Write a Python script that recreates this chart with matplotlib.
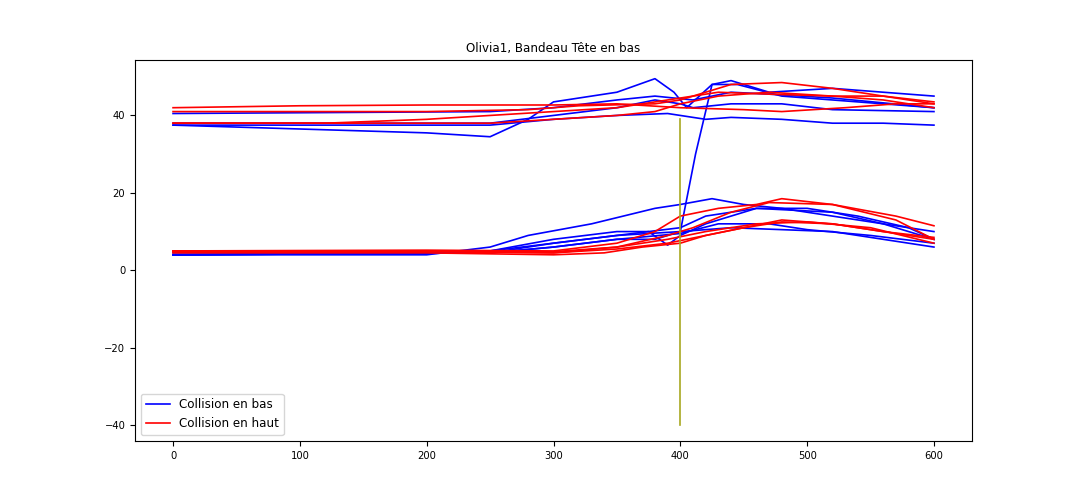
import matplotlib
matplotlib.use("Agg")
import matplotlib.pyplot as plt

# frame index of each reading, per curve
bas_x = [
    [0, 200, 250, 280, 300, 350, 380, 395, 405, 425, 440, 470, 520, 560, 600],
    [0, 250, 300, 350, 390, 420, 440, 480, 520, 560, 600],
    [0, 250, 300, 350, 380, 400, 410, 440, 480, 520, 600],
    [0, 250, 300, 350, 380, 410, 440, 470, 520, 600],
    [0, 250, 300, 350, 380, 400, 412, 425, 445, 480, 520, 600],
    [0, 200, 250, 280, 330, 380, 400, 425, 450, 480, 520, 560, 600],
    [0, 250, 300, 350, 375, 390, 400, 420, 460, 500, 540, 580, 600],
    [0, 250, 300, 350, 400, 430, 470, 500, 550, 600],
    [0, 250, 300, 350, 400, 440, 480, 520, 560, 600],
    [0, 250, 300, 350, 400, 420, 460, 520, 560, 600],
]
bas_y = [
    [37.5, 35.5, 34.5, 39, 43.5, 46, 49.5, 46, 42, 48, 49, 46, 47, 46, 45],
    [37.5, 37.5, 39, 40, 40.5, 39, 39.5, 39, 38, 38, 37.5],
    [38, 38, 40, 42, 44, 43, 42, 43, 43, 41.5, 41],
    [40.5, 41, 42, 44, 45, 44, 46, 45.5, 44.5, 42],
    [4, 4.5, 6, 8, 8, 10, 30, 48, 48, 45, 44, 42],
    [4, 4, 6, 9, 12, 16, 17, 18.5, 17, 16, 14, 12, 10],
    [4, 5, 8, 10, 10, 6.5, 9, 12, 16, 16, 14, 11, 8],
    [4, 4.5, 6, 8, 9.5, 12, 12, 10.5, 9, 7],
    [4.5, 5, 7, 9, 10, 11, 10.5, 10, 8, 6],
    [4, 4.5, 7, 9, 11, 14, 16, 15, 12, 8],
]
haut_x = [
    [0, 100, 200, 300, 350, 400, 450, 480, 530, 570, 600],
    [0, 200, 280, 320, 380, 400, 420, 440, 480, 520, 560, 600],
    [0, 120, 200, 250, 300, 350, 390, 430, 470, 520, 560, 600],
    [0, 150, 250, 300, 350, 380, 400, 430, 470, 520, 560, 600],
    [0, 200, 300, 350, 380, 400, 430, 460, 480, 520, 570, 600],
    [0, 200, 300, 350, 390, 410, 440, 470, 520, 570, 600],
    [0, 200, 300, 340, 370, 400, 420, 450, 480, 520, 560, 600],
    [0, 200, 300, 350, 390, 420, 450, 480, 520, 560, 600],
    [0, 200, 300, 350, 390, 420, 460, 500, 550, 600],
]
haut_y = [
    [42, 42.5, 42.7, 42.7, 43, 42, 41.5, 41, 42, 43, 43],
    [41, 41, 41.5, 42.5, 43, 44, 46, 48, 48.5, 47, 45, 43],
    [38, 38, 39, 40, 41, 42, 44, 46, 45.5, 45, 44, 42],
    [38, 38, 38, 39, 40, 41, 43, 45, 46, 45, 45, 43.5],
    [5, 5.2, 5, 7, 10, 14, 16, 17, 18.5, 17, 14, 11.5],
    [5, 5, 4.5, 6, 9, 11, 15, 17.5, 17, 13, 8],
    [4.5, 4.5, 4, 4.5, 6, 7, 9, 11, 12.5, 12, 10, 8],
    [4.8, 4.8, 4.5, 5.5, 7, 9, 11, 13, 12, 10, 8.5],
    [5, 5, 4.8, 6, 8, 10, 12, 12.5, 11, 7],
]
collision_x = 400
collision_y = [-40, 39]

plt.rcParams["font.size"] = 7.2
fig, ax = plt.subplots(figsize=(10.8, 5.04), dpi=100)
fig.subplots_adjust(left=0.125, right=0.9, top=0.88, bottom=0.125)

for i, (xs, ys) in enumerate(zip(bas_x, bas_y)):
    ax.plot(xs, ys, color="blue", lw=1.2, label="Collision en bas" if i == 0 else None)
for i, (xs, ys) in enumerate(zip(haut_x, haut_y)):
    ax.plot(xs, ys, color="red", lw=1.2, label="Collision en haut" if i == 0 else None)
ax.plot([collision_x, collision_x], collision_y, color="#a8a820", lw=1.2)

ax.set_xlim(-30, 630)
ax.set_ylim(-44.1, 54.2)
ax.set_yticks([-40, -20, 0, 20, 40])
ax.set_title("Olivia1, Bandeau Tête en bas", fontsize=8.6)
ax.legend(loc="lower left", fontsize=8.6)
fig.savefig("out.png")
